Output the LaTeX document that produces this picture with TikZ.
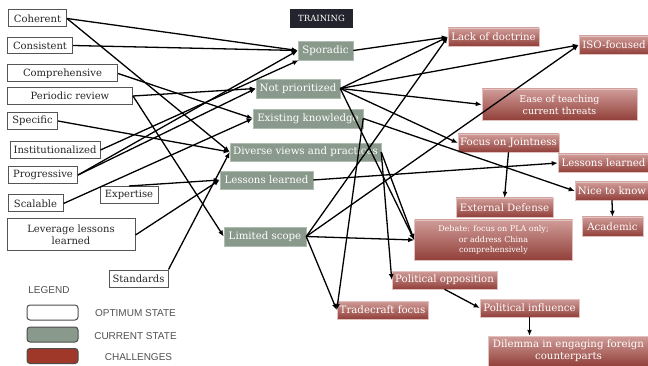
\documentclass[tikz,border=0pt]{standalone}
\usepackage{fontspec}
\setmainfont{DejaVu Serif}
\newfontfamily\legendfont{Liberation Sans}
\usetikzlibrary{positioning,arrows.meta}

\definecolor{optedge}{RGB}{85,85,85}
\definecolor{curfill}{RGB}{137,153,139}
\definecolor{curedge}{RGB}{175,188,175}
\definecolor{chaltop}{RGB}{208,156,152}
\definecolor{chalbot}{RGB}{146,64,58}
\definecolor{chaledge}{RGB}{226,194,192}
\definecolor{titlefill}{RGB}{36,36,46}
\definecolor{legred}{RGB}{160,56,42}
\definecolor{legtext}{RGB}{80,80,80}

\tikzset{
  optimum/.style={draw=optedge, line width=1pt, fill=white, text=black!85,
    font=\fontsize{10}{12}\selectfont, inner sep=1pt, align=center},
  current/.style={draw=curedge, line width=0.5pt, fill=curfill, text=white,
    font=\fontsize{10.2}{12}\selectfont, inner sep=1pt},
  challenge/.style={draw=chaledge, line width=0.5pt, top color=chaltop,
    bottom color=chalbot, text=white, font=\fontsize{10.2}{12}\selectfont,
    inner sep=1pt, align=center},
  legendbox/.style={draw=black!70, line width=1pt, rounded corners=3pt,
    minimum width=51, minimum height=15},
  legendtext/.style={text=legtext, font=\legendfont\fontsize{10}{12}\selectfont},
  link/.style={-{Latex[length=6pt,width=5pt]}, line width=1.3pt},
}

\begin{document}
\begin{tikzpicture}[x=1pt,y=-1pt]
    \useasboundingbox (0,0) rectangle (648,366);

    \node[fill=titlefill, text=white, font=\fontsize{8.5}{10}\selectfont,
      minimum width=63, minimum height=19] (training) at (321.5,18.5) {TRAINING};

    \node[optimum, minimum width=58, minimum height=17] (coherent) at (37.5,18.5) {Coherent};
    \node[optimum, minimum width=65, minimum height=16] (consistent) at (40,45.5) {Consistent};
    \node[optimum, minimum width=110, minimum height=17] (comprehensive) at (62.5,73.5) {Comprehensive};
    \node[optimum, minimum width=125, minimum height=17] (periodic) at (70,96) {Periodic review};
    \node[optimum, minimum width=50, minimum height=17] (specific) at (32.5,121) {Specific};
    \node[optimum, minimum width=90, minimum height=17] (institutionalized) at (55,150) {Institutionalized};
    \node[optimum, minimum width=69, minimum height=17] (progressive) at (43,175) {Progressive};
    \node[optimum, minimum width=55, minimum height=17] (scalable) at (35.5,203.5) {Scalable};
    \node[optimum, minimum width=58, minimum height=17] (expertise) at (129,195) {Expertise};
    \node[optimum, minimum width=128, minimum height=32] (leverage) at (71,235) {Leverage lessons\\learned};
    \node[optimum, minimum width=59, minimum height=17] (standards) at (138.5,278.5) {Standards};

    \node[current, minimum width=55, minimum height=19] (sporadic) at (325.5,50.5) {Sporadic};
    \node[current, minimum width=84, minimum height=19] (notprio) at (298,88.5) {Not prioritized};
    \node[current, minimum width=110, minimum height=19] (existing) at (308,118.5) {Existing knowledge};
    \node[current, minimum width=151, minimum height=18] (diverse) at (305.5,152) {Diverse views and practices};
    \node[current, minimum width=93, minimum height=18] (lessons) at (266.5,180) {Lessons learned};
    \node[current, minimum width=82, minimum height=19] (limited) at (265,236.5) {Limited scope};

    \node[challenge, minimum width=91, minimum height=18] (doctrine) at (493.5,37) {Lack of doctrine};
    \node[challenge, minimum width=70, minimum height=18] (iso) at (614,45) {ISO-focused};
    \node[challenge, minimum width=155, minimum height=31, font=\fontsize{9.5}{12}\selectfont] (ease) at (559.5,104.5) {Ease of teaching\\current threats};
    \node[challenge, minimum width=101, minimum height=18] (jointness) at (508.5,143) {Focus on Jointness};
    \node[challenge, minimum width=91, minimum height=18] (lessonsred) at (603.5,163) {Lessons learned};
    \node[challenge, minimum width=74, minimum height=18] (nice) at (612,191) {Nice to know};
    \node[challenge, minimum width=97, minimum height=19] (external) at (504.5,207.5) {External Defense};
    \node[challenge, minimum width=61, minimum height=19] (academic) at (612.5,226.5) {Academic};
    \node[challenge, minimum width=158, minimum height=40, font=\fontsize{8}{10.5}\selectfont] (debate) at (493.5,240) {Debate: focus on PLA only;\\or address China\\comprehensively};
    \node[challenge, minimum width=105, minimum height=18] (opposition) at (444.5,280) {Political opposition};
    \node[challenge, minimum width=91, minimum height=18] (tradecraft) at (382.5,310) {Tradecraft focus};
    \node[challenge, minimum width=99, minimum height=18] (influence) at (529.5,308) {Political influence};
    \node[challenge, minimum width=161, minimum height=30] (dilemma) at (568.5,351) {Dilemma in engaging foreign\\counterparts};

    \draw[link] (coherent.east) -- (sporadic.west);
    \draw[link] (coherent.east) -- (diverse.west);
    \draw[link] (consistent.east) -- (sporadic.west);
    \draw[link] (comprehensive.east) -- (existing.west);
    \draw[link] (periodic.east) -- (notprio.west);
    \draw[link] (periodic.east) -- (limited.west);
    \draw[link] (specific.east) -- (diverse.west);
    \draw[link] (institutionalized.east) -- (sporadic.200);
    \draw[link] (progressive.east) -- (sporadic.west);
    \draw[link] (progressive.east) -- (notprio.west);
    \draw[link] (scalable.east) -- (existing.west);
    \draw[link] (expertise.north) -- (lessons.west);
    \draw[link] (leverage.east) -- (lessons.west);
    \draw[link] (standards.north east) -- (diverse.west);

    \draw[link] (sporadic.east) -- (doctrine.west);
    \draw[link] (notprio.east) -- (doctrine.west);
    \draw[link] (notprio.east) -- (iso.west);
    \draw[link] (notprio.east) -- (ease.west);
    \draw[link] (notprio.east) -- (jointness.west);
    \draw[link] (notprio.east) -- (debate.west);
    \draw[link] (existing.east) -- (nice.west);
    \draw[link] (existing.east) -- (tradecraft.west);
    \draw[link] (diverse.east) -- (debate.west);
    \draw[link] (diverse.east) -- (opposition.west);
    \draw[link] (lessons.east) -- (lessonsred.west);
    \draw[link] (limited.east) -- (doctrine.west);
    \draw[link] (limited.east) -- (iso.west);
    \draw[link] (limited.east) -- (debate.west);
    \draw[link] (limited.east) -- (tradecraft.west);

    \draw[link] (jointness.south) -- (external.north);
    \draw[link] (nice.south) -- (academic.north);
    \draw[link] (opposition.south) -- (influence.west);
    \draw[link] (influence.south) -- (dilemma.north -| influence.south);

    \node[legendtext] (legend) at (49,290) {LEGEND};
    \node[legendbox, fill=white] (optkey) at (52.5,312.5) {};
    \node[legendbox, fill=curfill] (curkey) at (52.5,334.5) {};
    \node[legendbox, fill=legred] (chalkey) at (52.5,356) {};
    \node[legendtext] (optlabel) at (135.5,313) {OPTIMUM STATE};
    \node[legendtext] (curlabel) at (135.5,336) {CURRENT STATE};
    \node[legendtext] (challabel) at (138.5,357) {CHALLENGES};
\end{tikzpicture}
\end{document}
